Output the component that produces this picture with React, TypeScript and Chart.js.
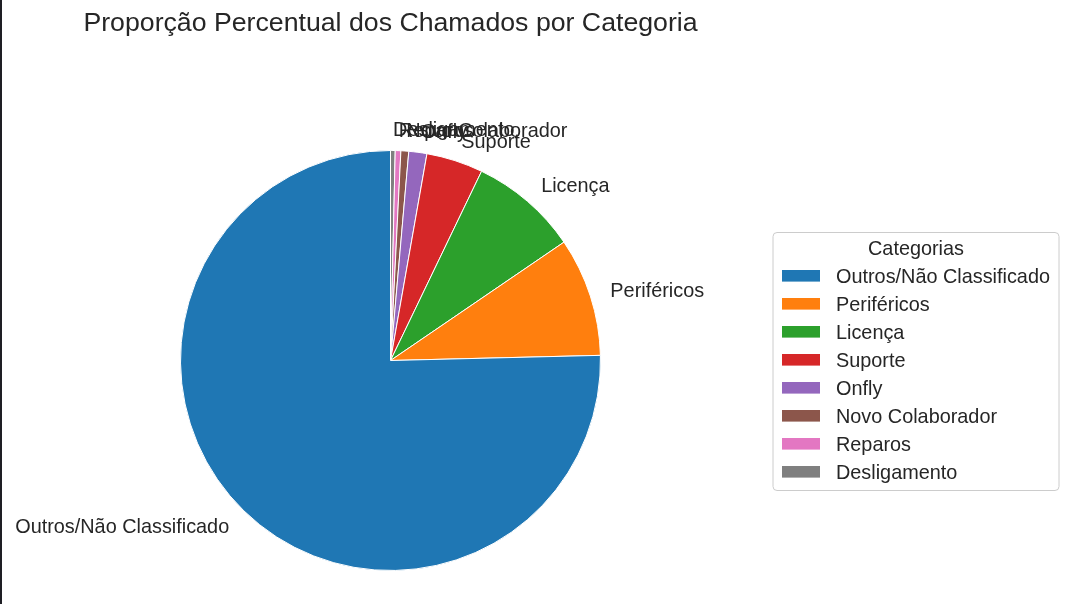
import React, { useEffect, useRef } from "react";
import { Chart, registerables } from "chart.js";

Chart.register(...registerables);

const categories = [
  "Outros/Não Classificado",
  "Periféricos",
  "Licença",
  "Suporte",
  "Onfly",
  "Novo Colaborador",
  "Reparos",
  "Desligamento",
];
const percentages = [75.39, 9.14, 8.33, 4.36, 1.39, 0.6, 0.43, 0.36];
const colors = [
  "#1f77b4",
  "#ff7f0e",
  "#2ca02c",
  "#d62728",
  "#9467bd",
  "#8c564b",
  "#e377c2",
  "#7f7f7f",
];
const chartTitle = "Proporção Percentual dos Chamados por Categoria";
const legendTitle = "Categorias";

const FONT = '"Liberation Sans", Arial, sans-serif';
const TEXT = "#262626";

const overlayPlugin = {
  id: "overlay",
  afterDatasetsDraw(chart: any) {
    const ctx = chart.ctx as CanvasRenderingContext2D;
    const meta = chart.getDatasetMeta(0);
    const labels = chart.data.labels as string[];
    ctx.save();
    ctx.fillStyle = TEXT;
    ctx.font = `19.85px ${FONT}`;
    ctx.textBaseline = "middle";
    meta.data.forEach((arc: any, i: number) => {
      const p = arc.getProps(["x", "y", "startAngle", "endAngle", "outerRadius"], true);
      const mid = (p.startAngle + p.endAngle) / 2;
      const r = p.outerRadius * 1.1;
      const x = p.x + r * Math.cos(mid);
      const y = p.y + r * Math.sin(mid);
      ctx.textAlign = Math.cos(mid) > 0 ? "left" : "right";
      ctx.fillText(labels[i], x, y + 1.5);
    });
    ctx.restore();
  },
  afterDraw(chart: any) {
    const ctx = chart.ctx as CanvasRenderingContext2D;
    ctx.save();
    // title
    ctx.fillStyle = TEXT;
    ctx.font = `26.7px ${FONT}`;
    ctx.textAlign = "center";
    ctx.textBaseline = "alphabetic";
    ctx.fillText(chartTitle, 390.5, 30.5);

    // legend box
    const bx = 773, by = 232.5, bw = 286, bh = 258, rad = 4;
    ctx.beginPath();
    ctx.moveTo(bx + rad, by);
    ctx.lineTo(bx + bw - rad, by);
    ctx.arcTo(bx + bw, by, bx + bw, by + rad, rad);
    ctx.lineTo(bx + bw, by + bh - rad);
    ctx.arcTo(bx + bw, by + bh, bx + bw - rad, by + bh, rad);
    ctx.lineTo(bx + rad, by + bh);
    ctx.arcTo(bx, by + bh, bx, by + bh - rad, rad);
    ctx.lineTo(bx, by + rad);
    ctx.arcTo(bx, by, bx + rad, by, rad);
    ctx.closePath();
    ctx.fillStyle = "rgba(255,255,255,0.9)";
    ctx.fill();
    ctx.strokeStyle = "#cccccc";
    ctx.lineWidth = 1;
    ctx.stroke();

    ctx.fillStyle = TEXT;
    ctx.font = `19.85px ${FONT}`;
    ctx.textAlign = "center";
    ctx.fillText(legendTitle, bx + bw / 2, 254.5);

    ctx.textAlign = "left";
    categories.forEach((c, i) => {
      const cy = 275.8 + 28 * i;
      ctx.fillStyle = colors[i];
      ctx.fillRect(782, cy - 5.8, 38, 11.6);
      ctx.fillStyle = TEXT;
      ctx.fillText(c, 836, 282.5 + 28 * i);
    });
    ctx.restore();
  },
};

export default function App() {
  const ref = useRef<HTMLCanvasElement | null>(null);
  useEffect(() => {
    if (!ref.current) return;
    const order = categories.map((_, i) => categories.length - 1 - i);
    const chart = new Chart(ref.current, {
      type: "pie",
      data: {
        labels: order.map((i) => categories[i]),
        datasets: [
          {
            data: order.map((i) => percentages[i]),
            backgroundColor: order.map((i) => colors[i]),
            borderColor: "#ffffff",
            borderWidth: 1,
          },
        ],
      },
      options: {
        animation: false,
        responsive: false,
        devicePixelRatio: 1,
        radius: 210,
        rotation: 0,
        layout: { padding: { left: 10, right: 297, top: 130, bottom: 13 } },
        plugins: {
          legend: { display: false },
          tooltip: { enabled: false },
          title: { display: false },
        },
      } as any,
      plugins: [overlayPlugin],
    });
    return () => chart.destroy();
  }, []);
  return (
    <div
      style={{
        position: "fixed",
        left: 0,
        top: 0,
        width: 1068,
        height: 604,
        background: "#ffffff",
      }}
    >
      <canvas ref={ref} width={1068} height={604} style={{ display: "block" }} />
      <div
        style={{
          position: "absolute",
          left: 0,
          top: 0,
          width: 2,
          height: 604,
          background: "#1e1e24",
        }}
      />
    </div>
  );
}
